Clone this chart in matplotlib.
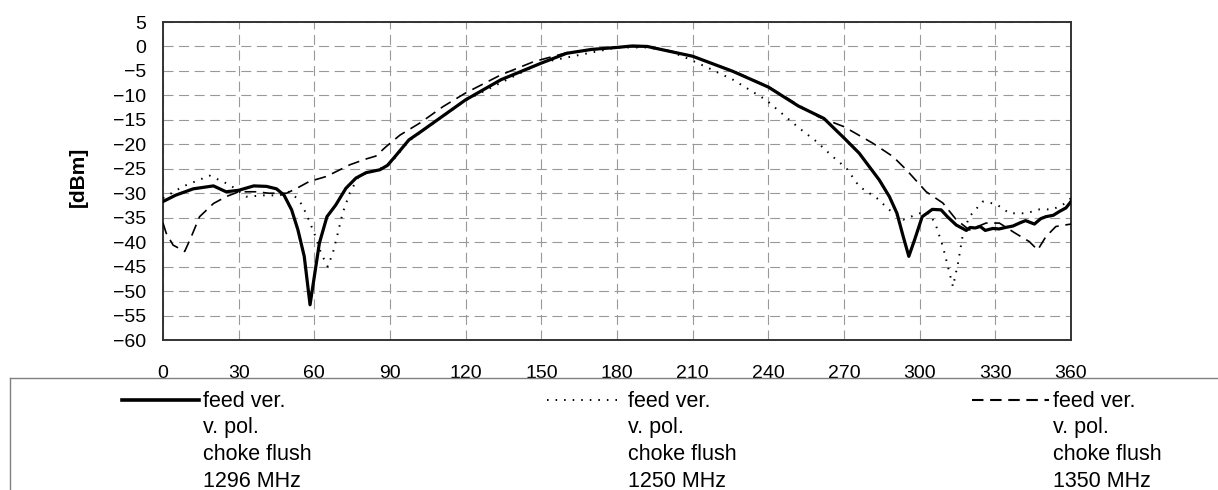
#!/usr/bin/python3
# -*- coding: utf-8 -*-
"""
Antenna pattern of the feed, three frequencies, choke flush.
"""
import numpy
import matplotlib
matplotlib.use('Agg')
import matplotlib.pyplot as plt
from matplotlib.lines import Line2D

# angle [deg] and level [dBm]
ang_1296 = [0, 5, 12, 20, 25, 30, 36, 41, 45, 48, 51, 53.5, 56, 58.3, 60, 62, 65,
            68.5, 72.5, 76.5, 80.5, 86, 89, 92, 97.5, 102, 111, 120, 134, 150,
            160, 170, 180, 186, 192, 200, 210, 226, 240, 252, 262, 270, 276, 284,
            288, 291, 293.5, 295.7, 298, 301, 305, 308.5, 311, 314.5, 318.5, 320,
            322, 324, 326, 329, 331.5, 334, 337, 340, 342, 345.5, 348, 350, 353,
            355.5, 358, 360]
lvl_1296 = [-31.7, -30.4, -29.1, -28.5, -29.7, -29.4, -28.5, -28.6, -29.1, -30.4,
            -33.4, -37.5, -42.9, -52.8, -47, -40.2, -34.8, -32.4, -29, -26.9,
            -25.8, -25.2, -24.3, -22.5, -19.1, -17.5, -14.2, -10.9, -6.8, -3.4,
            -1.4, -0.6, -0.2, 0.1, 0, -0.9, -2, -5.1, -8.3, -12.2, -14.7, -18.7,
            -21.8, -27.3, -30.7, -34.1, -38.9, -42.9, -39.5, -34.8, -33.3, -33.4,
            -34.8, -36.5, -37.6, -37.0, -37.1, -36.8, -37.6, -37.2, -37.3, -37.0,
            -36.7, -36.0, -35.6, -36.3, -35.2, -34.8, -34.5, -33.7, -33.0, -31.7]

ang_1250 = [0, 8, 18.5, 26.5, 33, 41, 46, 50, 54, 56.7, 60, 62.7, 65.3, 67.3, 69.3,
            71.2, 74, 77.2, 80.5, 86, 90, 97.5, 102, 120, 150, 180, 192, 200, 206,
            215, 226, 239, 252, 259, 265.5, 271, 276, 283, 288, 293.5, 300, 304,
            306.6, 309.2, 311.2, 313.2, 315.2, 317.2, 319.7, 325, 330.3, 335.6,
            342.2, 347.5, 352.8, 358, 360]
lvl_1250 = [-31, -28.6, -26.4, -28.3, -30.7, -30.4, -30.5, -29.7, -31.4, -34.1,
            -38.2, -42.3, -45, -42.3, -38.2, -34.1, -30, -26.9, -25.9, -25, -24,
            -19.3, -17.6, -11, -3.3, -0.2, -0.2, -0.9, -2, -4.1, -6.8, -10.9,
            -16.6, -19.4, -22.5, -24.9, -28.6, -31, -33.4, -35.4, -34.1, -34.1,
            -36.8, -40.9, -45, -49.1, -44.3, -38.2, -34.8, -31.7, -32.2, -34.1,
            -34.1, -33.3, -33.3, -32, -31]

ang_1350 = [0, 1.3, 4, 8.6, 11.2, 14.5, 20, 25, 30, 37, 42, 49, 53, 58, 64.6, 68.6,
            74, 80.5, 84.4, 88.4, 94, 102, 111, 120, 134, 147, 160, 180, 192, 200,
            210, 226, 240, 252, 260, 270, 281.5, 289.4, 294.7, 302.6, 309.2, 314.5,
            319.7, 326.3, 331.6, 338, 343.5, 346.8, 350, 354, 360]
lvl_1350 = [-36.1, -38.2, -40.6, -41.9, -38.9, -34.8, -32.1, -30.7, -29.7, -29.7,
            -30, -30, -29, -27.6, -26.6, -25.6, -24.2, -23, -22.4, -20.5, -18.1,
            -15.6, -12.3, -9.5, -5.8, -3.1, -1.3, -0.1, 0, -0.8, -2, -5, -8.2, -12,
            -14.4, -16.4, -19.8, -22.5, -25.2, -29.7, -32, -35.4, -37.5, -36.1,
            -36.1, -38.2, -39.9, -41.6, -38.9, -36.8, -36.3]

labels = ['feed ver.\nv. pol.\nchoke flush\n1296 MHz',
          'feed ver.\nv. pol.\nchoke flush\n1250 MHz',
          'feed ver.\nv. pol.\nchoke flush\n1350 MHz']

plt.rcParams['font.family'] = ['Liberation Sans', 'DejaVu Sans']

W, H = 1218, 490
fig = plt.figure(figsize=(W / 100, H / 100), dpi=100)
ax = fig.add_axes([163 / W, 1 - 340 / H, 908 / W, 318 / H])

styles = [dict(color='black', lw=2.3, ls='-'),
          dict(color='black', lw=1.4, ls=(0, (0.8, 3.6))),
          dict(color='black', lw=1.2, ls=(0, (7, 4)))]
series = [(ang_1296, lvl_1296), (ang_1250, lvl_1250), (ang_1350, lvl_1350)]
lines = []
for (a, l), st in zip(series, styles):
    ln, = ax.plot(numpy.array(a), numpy.array(l), zorder=3, **st)
    lines.append(ln)

ax.set_xlim(0, 360)
ax.set_ylim(-60, 5)
ax.set_xticks(numpy.arange(0, 361, 30))
ax.set_yticks(numpy.arange(-60, 6, 5))
ax.grid(True, color='#999999', lw=0.8, ls=(0, (9, 5)))
ax.tick_params(axis='both', length=0, labelsize=14)
ax.tick_params(axis='x', pad=18)
ax.tick_params(axis='y', pad=12)
for s in ax.spines.values():
    s.set_color('#333333')
    s.set_linewidth(1.4)
ax.set_ylabel('[dBm]', fontsize=15, fontweight='bold')
ax.yaxis.set_label_coords(-0.0826, 0.513)

# legend box below the plot, open on the right and bottom
fig.add_artist(Line2D([10 / W, 1.0], [1 - 378 / H] * 2, color='#808080', lw=1.0,
                      transform=fig.transFigure))
fig.add_artist(Line2D([10 / W] * 2, [0, 1 - 378 / H], color='#808080', lw=1.0,
                      transform=fig.transFigure))
leg_lw = [2.6, 1.4, 1.5]
leg_ls = ['-', (0, (0.8, 3.6)), (0, (5.5, 3.2))]
for j, lab in enumerate(labels):
    x0 = 122 + 425 * j
    fig.add_artist(Line2D([x0 / W, (x0 + 77) / W], [1 - 399.5 / H] * 2,
                          color='black', lw=leg_lw[j], ls=leg_ls[j],
                          transform=fig.transFigure))
    fig.text((x0 + 81) / W, 1 - 390.5 / H, lab, fontsize=15.5, va='top',
             ha='left', linespacing=1.37)

fig.savefig('out.png', dpi=100)
